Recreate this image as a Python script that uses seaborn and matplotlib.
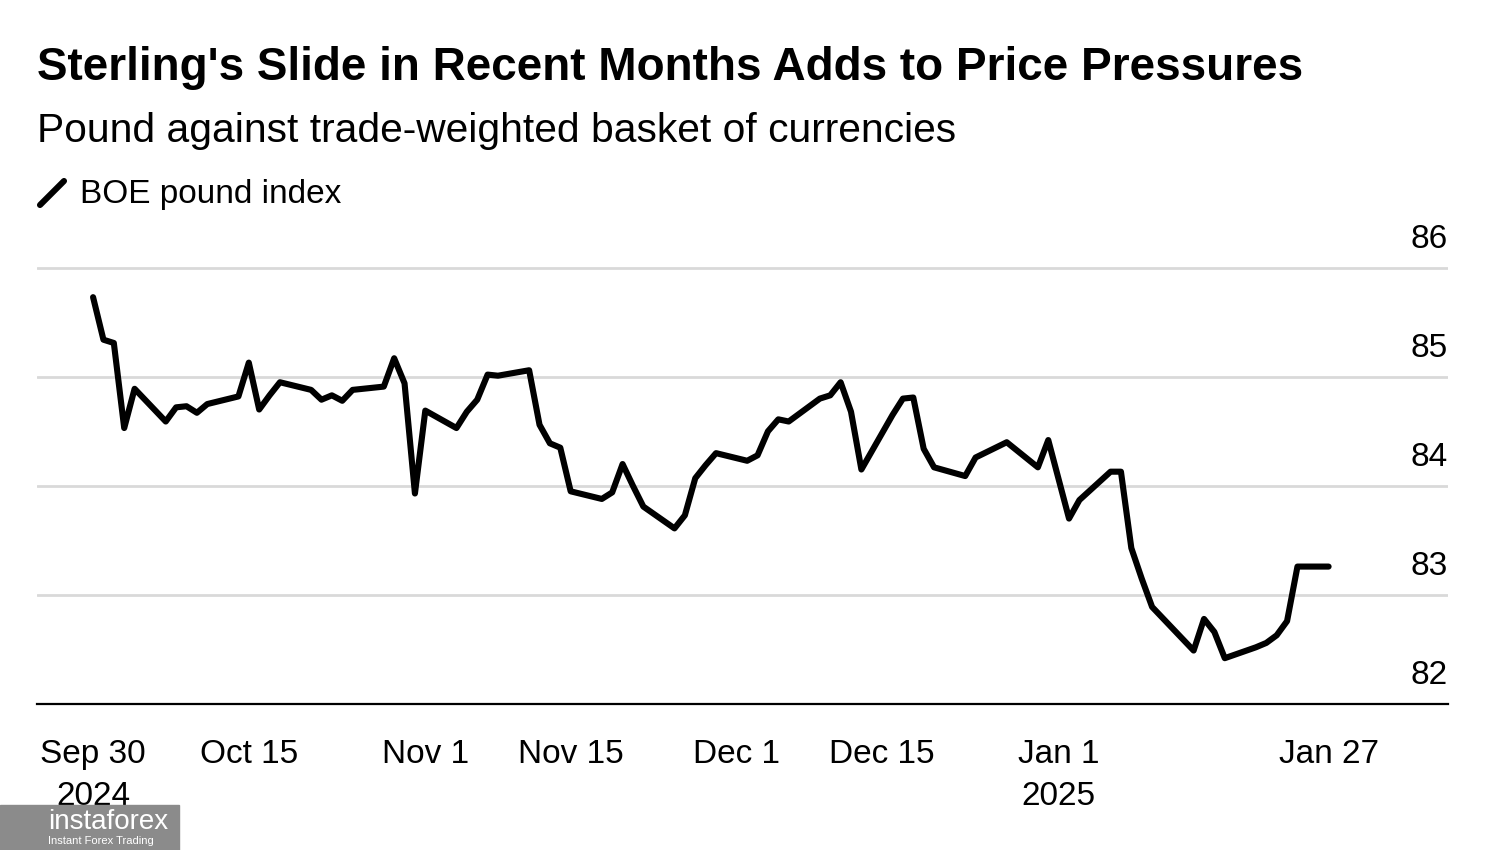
import matplotlib
matplotlib.use("Agg")
import matplotlib.pyplot as plt
from matplotlib.transforms import ScaledTranslation
from matplotlib.lines import Line2D
from matplotlib.patches import Rectangle
import pandas as pd
import seaborn as sns

# BOE pound index, daily (business days)
dates = ["2024-09-30", "2024-10-01", "2024-10-02", "2024-10-03", "2024-10-04",
         "2024-10-07", "2024-10-08", "2024-10-09", "2024-10-10", "2024-10-11",
         "2024-10-14", "2024-10-15", "2024-10-16", "2024-10-17", "2024-10-18",
         "2024-10-21", "2024-10-22", "2024-10-23", "2024-10-24", "2024-10-25",
         "2024-10-28", "2024-10-29", "2024-10-30", "2024-10-31", "2024-11-01",
         "2024-11-04", "2024-11-05", "2024-11-06", "2024-11-07", "2024-11-08",
         "2024-11-11", "2024-11-12", "2024-11-13", "2024-11-14", "2024-11-15",
         "2024-11-18", "2024-11-19", "2024-11-20", "2024-11-21", "2024-11-22",
         "2024-11-25", "2024-11-26", "2024-11-27", "2024-11-28", "2024-11-29",
         "2024-12-02", "2024-12-03", "2024-12-04", "2024-12-05", "2024-12-06",
         "2024-12-09", "2024-12-10", "2024-12-11", "2024-12-12", "2024-12-13",
         "2024-12-16", "2024-12-17", "2024-12-18", "2024-12-19", "2024-12-20",
         "2024-12-23", "2024-12-24", "2024-12-27", "2024-12-30", "2024-12-31",
         "2025-01-02", "2025-01-03", "2025-01-06", "2025-01-07", "2025-01-08",
         "2025-01-09", "2025-01-10", "2025-01-13", "2025-01-14", "2025-01-15",
         "2025-01-16", "2025-01-17", "2025-01-20", "2025-01-21", "2025-01-22",
         "2025-01-23", "2025-01-24", "2025-01-27"]
values = [85.73, 85.34, 85.31, 84.53, 84.89,
          84.59, 84.72, 84.73, 84.67, 84.75,
          84.82, 85.13, 84.70, 84.83, 84.95,
          84.88, 84.79, 84.83, 84.78, 84.88,
          84.91, 85.17, 84.94, 83.93, 84.69,
          84.53, 84.68, 84.79, 85.02, 85.01,
          85.06, 84.56, 84.39, 84.35, 83.95,
          83.88, 83.94, 84.20, 84.00, 83.81,
          83.61, 83.73, 84.07, 84.19, 84.30,
          84.23, 84.28, 84.50, 84.61, 84.59,
          84.80, 84.83, 84.95, 84.68, 84.15,
          84.65, 84.80, 84.81, 84.34, 84.17,
          84.09, 84.26, 84.40, 84.17, 84.42,
          83.70, 83.87, 84.13, 84.13, 83.43,
          83.15, 82.89, 82.59, 82.49, 82.78,
          82.66, 82.42, 82.52, 82.56, 82.63,
          82.76, 83.26, 83.26]

tick_dates = ["2024-09-30", "2024-10-15", "2024-11-01", "2024-11-15",
              "2024-12-01", "2024-12-15", "2025-01-01", "2025-01-27"]
tick_labels = ["Sep 30\n2024", "Oct 15", "Nov 1", "Nov 15",
               "Dec 1", "Dec 15", "Jan 1\n2025", "Jan 27"]
y_ticks = [82, 83, 84, 85, 86]

title = "Sterling's Slide in Recent Months Adds to Price Pressures"
subtitle = "Pound against trade-weighted basket of currencies"
legend_label = "BOE pound index"

sns.set_style("white")
plt.rcParams['font.family'] = ['Liberation Sans', 'DejaVu Sans']
plt.rcParams['text.color'] = 'black'

df = pd.DataFrame({"date": pd.to_datetime(dates), "value": values})

fig = plt.figure(figsize=(15, 8.5), dpi=100)
ax = fig.add_axes([37/1500, 1 - 704/850, (1448 - 37)/1500, (704 - 235)/850])

sns.lineplot(data=df, x="date", y="value", ax=ax, color="black",
             linewidth=4.4, legend=False)

start = pd.Timestamp("2024-09-30")
ax.set_xlim(start - pd.Timedelta(days=5.4), start + pd.Timedelta(days=130.5))
ax.set_ylim(82, 86.3)
ax.set_xlabel("")
ax.set_ylabel("")

# grid + spines
ax.set_yticks(y_ticks)
ax.grid(axis="y", color="#d9d9d9", linewidth=2)
ax.grid(axis="x", visible=False)
ax.set_axisbelow(True)
for s in ["top", "left", "right"]:
    ax.spines[s].set_visible(False)
ax.spines["bottom"].set_color("black")
ax.spines["bottom"].set_linewidth(1.6)

# x ticks
ax.set_xticks(pd.to_datetime(tick_dates))
ax.set_xticklabels(tick_labels)
ax.tick_params(axis="x", length=10, width=1.5, color="black", pad=15,
               labelsize=24, labelcolor="black")
for lab in ax.get_xticklabels():
    lab.set_linespacing(1.45)

# y labels on the right, sitting above the gridlines
ax.yaxis.tick_right()
ax.tick_params(axis="y", length=0, pad=0, labelsize=24, labelcolor="black")
for lab in ax.get_yticklabels():
    lab.set_ha("right")
    lab.set_transform(lab.get_transform() + ScaledTranslation(0, 32/100, fig.dpi_scale_trans))

# header
fig.text(37/1500, 1 - 68/850, title, fontsize=33, fontweight="bold", va="center")
fig.text(37/1500, 1 - 131/850, subtitle, fontsize=29.3, va="center")
fig.add_artist(Line2D([40/1500, 64/1500], [1 - 205/850, 1 - 181/850],
                      transform=fig.transFigure, color="black", lw=4.4,
                      solid_capstyle="round"))
fig.text(80/1500, 1 - 194/850, legend_label, fontsize=24, va="center")

# watermark
fig.add_artist(Rectangle((0, 0), 179/1500, 45/850, transform=fig.transFigure,
                         color="#8b8b8b", zorder=5))
fig.text(48/1500, 1 - 822/850, "instaforex", fontsize=20, color="white",
         va="center", zorder=6)
fig.text(48/1500, 1 - 841/850, "Instant Forex Trading", fontsize=8,
         color="white", va="center", zorder=6)

fig.savefig("out.png", dpi=100)
